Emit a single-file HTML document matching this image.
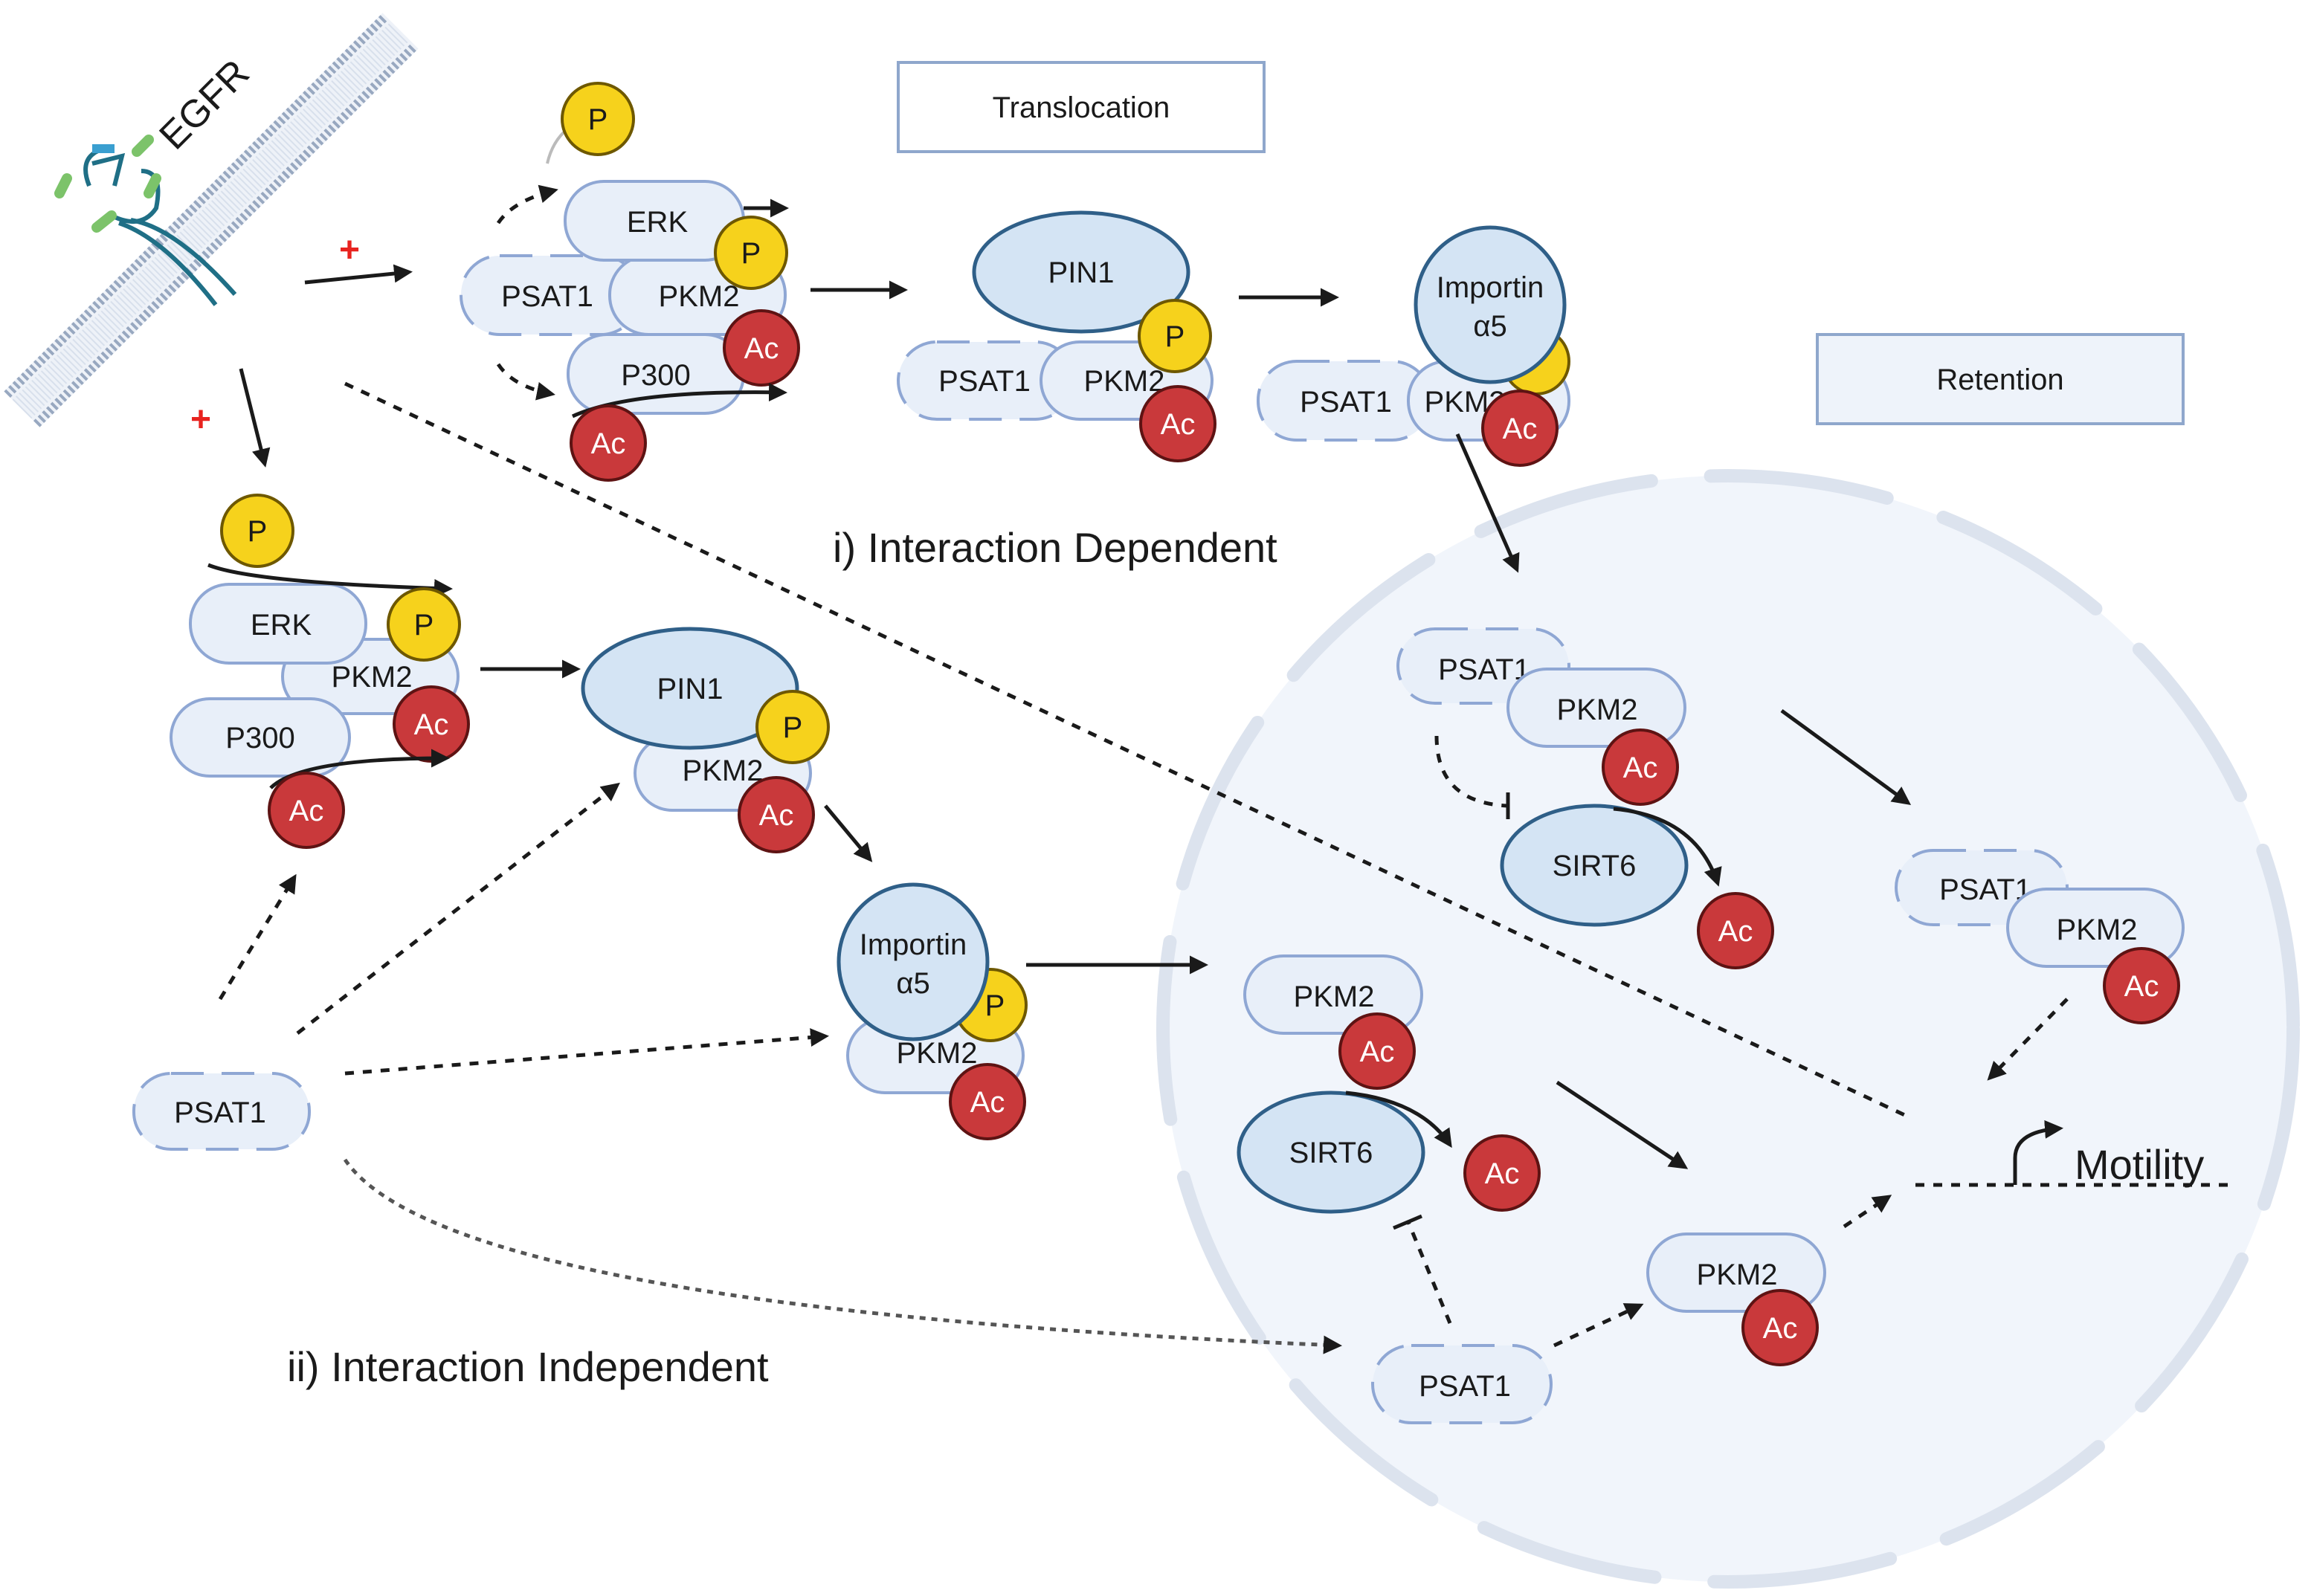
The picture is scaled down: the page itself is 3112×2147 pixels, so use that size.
<!DOCTYPE html>
<html><head><meta charset="utf-8"><style>html,body{margin:0;padding:0;background:#fff}svg{display:block}text{font-family:"Liberation Sans",sans-serif}</style></head><body>
<svg width="3112" height="2147" viewBox="0 0 1556 1073.5" xmlns="http://www.w3.org/2000/svg">
<defs>
<marker id="a" viewBox="0 0 10 10" refX="8" refY="5" markerWidth="5" markerHeight="5" orient="auto"><path d="M0,0L10,5L0,10z" fill="#1a1a1a"/></marker>
<style>
.pl{fill:#e8eff9;stroke:#8fa7d4;stroke-width:2}
.pd{fill:#e8eff9;stroke:#8fa7d4;stroke-width:2;stroke-dasharray:22 12}
.el{fill:#d4e4f4;stroke:#2f5f88;stroke-width:2.5}
.p{fill:#f6d21c;stroke:#6e5800;stroke-width:2}
.ac{fill:#c9393b;stroke:#5e1313;stroke-width:2}
.t{font-size:20px;fill:#1a1a1a;text-anchor:middle}
.tw{font-size:20px;fill:#fff;text-anchor:middle}
.s{stroke:#1a1a1a;stroke-width:2.5;fill:none}
.d{stroke:#1a1a1a;stroke-width:2.5;fill:none;stroke-dasharray:6 6}
</style>
</defs>
<ellipse cx="1162" cy="692" rx="380" ry="372" fill="#f1f5fb"/>
<ellipse cx="1162" cy="692" rx="380" ry="372" fill="none" stroke="#dce3ee" stroke-width="9" stroke-linecap="round" stroke-dasharray="120 40"/>
<g transform="translate(142,148) rotate(-45)">
<rect x="-180" y="-17" width="360" height="34" fill="#eef2f8"/>
<line x1="-180" y1="-14" x2="180" y2="-14" stroke="#98a8c0" stroke-width="6" stroke-dasharray="2 2"/>
<line x1="-180" y1="14" x2="180" y2="14" stroke="#98a8c0" stroke-width="6" stroke-dasharray="2 2"/>
<line x1="-180" y1="0" x2="180" y2="0" stroke="#d8e0ec" stroke-width="18" stroke-dasharray="1 2"/>
</g>
<text x="0" y="0" transform="translate(118,102) rotate(-45)" style="font-size:26px" fill="#1a1a1a">EGFR</text>
<path d="M60,125 q-8,-20 10,-25 M62,110 l20,-5 l-5,20 M95,115 q15,0 10,25 q-10,15 -30,5 M80,150 q30,10 65,55 M88,148 q30,5 70,50" stroke="#1f6f86" stroke-width="3" fill="none"/>
<path d="M45,120 l-5,10 M92,102 l8,-8 M75,145 l-10,8 M100,130 l5,-10" stroke="#7cc36a" stroke-width="7" stroke-linecap="round"/>
<path d="M62,100 l15,0" stroke="#3a9fd0" stroke-width="6"/>
<line x1="205" y1="190" x2="275" y2="183" class="s" marker-end="url(#a)"/>
<text x="235" y="176" style="font-size:24px;font-weight:bold" fill="#e8231f" text-anchor="middle">+</text>
<path d="M335,150 q10,-15 38,-22" class="d" marker-end="url(#a)"/>
<path d="M335,245 q10,15 36,20" class="d" marker-end="url(#a)"/>
<path d="M368,110 q5,-22 25,-30" stroke="#bbb" stroke-width="2" fill="none"/>
<circle cx="402" cy="80" r="24" class="p"/><text x="402" y="87" class="t">P</text>
<rect x="310" y="172" width="120" height="53" rx="26" class="pd"/>
<rect x="410" y="172" width="118" height="53" rx="26" class="pl"/>
<rect x="380" y="122" width="120" height="53" rx="26" class="pl"/>
<text x="442" y="156" class="t">ERK</text>
<text x="368" y="206" class="t">PSAT1</text><text x="470" y="206" class="t">PKM2</text>
<rect x="382" y="225" width="118" height="53" rx="26" class="pl"/>
<text x="441" y="259" class="t">P300</text>
<line x1="500" y1="140" x2="528" y2="140" class="s" marker-end="url(#a)"/>
<circle cx="505" cy="170" r="24" class="p"/><text x="505" y="177" class="t">P</text>
<circle cx="512" cy="234" r="25" class="ac"/><text x="512" y="241" class="tw">Ac</text>
<path d="M385,280 q40,-18 142,-16" class="s" marker-end="url(#a)"/>
<circle cx="409" cy="298" r="25" class="ac"/><text x="409" y="305" class="tw">Ac</text>
<line x1="545" y1="195" x2="608" y2="195" class="s" marker-end="url(#a)"/>
<rect x="604" y="42" width="246" height="60" fill="#fff" stroke="#8fa7cc" stroke-width="2"/>
<text x="727" y="79" class="t">Translocation</text>
<rect x="604" y="230" width="118" height="52" rx="26" class="pd"/>
<rect x="700" y="230" width="115" height="52" rx="26" class="pl"/>
<text x="662" y="263" class="t">PSAT1</text><text x="756" y="263" class="t">PKM2</text>
<ellipse cx="727" cy="183" rx="72" ry="40" class="el"/><text x="727" y="190" class="t">PIN1</text>
<circle cx="790" cy="226" r="24" class="p"/><text x="790" y="233" class="t">P</text>
<circle cx="792" cy="285" r="25" class="ac"/><text x="792" y="292" class="tw">Ac</text>
<line x1="833" y1="200" x2="898" y2="200" class="s" marker-end="url(#a)"/>
<rect x="846" y="243" width="116" height="53" rx="26" class="pd"/>
<rect x="947" y="243" width="108" height="53" rx="26" class="pl"/>
<text x="905" y="277" class="t">PSAT1</text><text x="985" y="277" class="t">PKM2</text>
<circle cx="1033" cy="243" r="22" class="p"/>
<ellipse cx="1002" cy="205" rx="50" ry="52" class="el"/>
<text x="1002" y="200" class="t">Importin</text><text x="1002" y="226" class="t">α5</text>
<circle cx="1022" cy="288" r="25" class="ac"/><text x="1022" y="295" class="tw">Ac</text>
<line x1="980" y1="292" x2="1020" y2="383" class="s" marker-end="url(#a)"/>
<rect x="1222" y="225" width="246" height="60" fill="#eef3fa" stroke="#8fa7cc" stroke-width="2"/>
<text x="1345" y="262" class="t">Retention</text>
<text x="560" y="378" style="font-size:28px" fill="#1a1a1a">i) Interaction Dependent</text>
<line x1="232" y1="258" x2="1285" y2="752" class="d"/>
<line x1="162" y1="248" x2="178" y2="312" class="s" marker-end="url(#a)"/>
<text x="135" y="290" style="font-size:24px;font-weight:bold" fill="#e8231f" text-anchor="middle">+</text>
<circle cx="173" cy="357" r="24" class="p"/><text x="173" y="364" class="t">P</text>
<rect x="190" y="430" width="118" height="50" rx="25" class="pl"/>
<rect x="128" y="393" width="118" height="53" rx="26" class="pl"/>
<text x="189" y="427" class="t">ERK</text><text x="250" y="462" class="t">PKM2</text>
<rect x="115" y="470" width="120" height="52" rx="26" class="pl"/>
<text x="175" y="503" class="t">P300</text>
<path d="M140,380 q30,12 162,16" class="s" marker-end="url(#a)"/>
<circle cx="285" cy="420" r="24" class="p"/><text x="285" y="427" class="t">P</text>
<circle cx="290" cy="487" r="25" class="ac"/><text x="290" y="494" class="tw">Ac</text>
<path d="M182,530 q20,-20 118,-20" class="s" marker-end="url(#a)"/>
<circle cx="206" cy="545" r="25" class="ac"/><text x="206" y="552" class="tw">Ac</text>
<line x1="323" y1="450" x2="388" y2="450" class="s" marker-end="url(#a)"/>
<rect x="427" y="495" width="118" height="50" rx="25" class="pl"/>
<text x="486" y="525" class="t">PKM2</text>
<ellipse cx="464" cy="463" rx="72" ry="40" class="el"/><text x="464" y="470" class="t">PIN1</text>
<circle cx="533" cy="489" r="24" class="p"/><text x="533" y="496" class="t">P</text>
<circle cx="522" cy="548" r="25" class="ac"/><text x="522" y="555" class="tw">Ac</text>
<line x1="555" y1="542" x2="585" y2="578" class="s" marker-end="url(#a)"/>
<rect x="570" y="685" width="118" height="50" rx="25" class="pl"/>
<text x="630" y="715" class="t">PKM2</text>
<circle cx="666" cy="676" r="24" class="p"/><text x="669" y="683" class="t">P</text>
<ellipse cx="614" cy="647" rx="50" ry="52" class="el"/>
<text x="614" y="642" class="t">Importin</text><text x="614" y="668" class="t">α5</text>
<circle cx="664" cy="741" r="25" class="ac"/><text x="664" y="748" class="tw">Ac</text>
<line x1="690" y1="649" x2="810" y2="649" class="s" marker-end="url(#a)"/>
<rect x="90" y="722" width="118" height="51" rx="25" class="pd"/>
<text x="148" y="755" class="t">PSAT1</text>
<line x1="148" y1="672" x2="198" y2="590" class="d" marker-end="url(#a)"/>
<line x1="200" y1="695" x2="415" y2="528" class="d" marker-end="url(#a)"/>
<line x1="232" y1="722" x2="555" y2="697" class="d" marker-end="url(#a)"/>
<path d="M232,780 Q300,880 900,905" stroke="#555" stroke-width="2.5" fill="none" stroke-dasharray="4 4" marker-end="url(#a)"/>
<text x="193" y="929" style="font-size:28px" fill="#1a1a1a">ii) Interaction Independent</text>
<rect x="940" y="423" width="115" height="50" rx="25" class="pd"/>
<text x="998" y="457" class="t">PSAT1</text>
<rect x="1014" y="450" width="119" height="52" rx="26" class="pl"/>
<text x="1074" y="484" class="t">PKM2</text>
<circle cx="1103" cy="516" r="25" class="ac"/><text x="1103" y="523" class="tw">Ac</text>
<path d="M966,495 q0,45 48,47" class="d"/><line x1="1014" y1="533" x2="1014" y2="551" stroke="#1a1a1a" stroke-width="2.5"/>
<ellipse cx="1072" cy="582" rx="62" ry="40" class="el"/><text x="1072" y="589" class="t">SIRT6</text>
<path d="M1085,544 q55,5 70,50" class="s" marker-end="url(#a)"/>
<circle cx="1167" cy="626" r="25" class="ac"/><text x="1167" y="633" class="tw">Ac</text>
<line x1="1198" y1="478" x2="1283" y2="540" class="s" marker-end="url(#a)"/>
<rect x="1275" y="572" width="115" height="50" rx="25" class="pd"/>
<text x="1335" y="605" class="t">PSAT1</text>
<rect x="1350" y="598" width="118" height="52" rx="26" class="pl"/>
<text x="1410" y="632" class="t">PKM2</text>
<circle cx="1440" cy="663" r="25" class="ac"/><text x="1440" y="670" class="tw">Ac</text>
<line x1="1390" y1="672" x2="1338" y2="725" class="d" marker-end="url(#a)"/>
<rect x="837" y="643" width="119" height="52" rx="26" class="pl"/>
<text x="897" y="677" class="t">PKM2</text>
<circle cx="926" cy="707" r="25" class="ac"/><text x="926" y="714" class="tw">Ac</text>
<ellipse cx="895" cy="775" rx="62" ry="40" class="el"/><text x="895" y="782" class="t">SIRT6</text>
<path d="M905,735 q50,5 70,35" class="s" marker-end="url(#a)"/>
<circle cx="1010" cy="789" r="25" class="ac"/><text x="1010" y="796" class="tw">Ac</text>
<line x1="1047" y1="728" x2="1133" y2="785" class="s" marker-end="url(#a)"/>
<line x1="975" y1="890" x2="947" y2="822" class="d"/><line x1="937" y1="826" x2="956" y2="818" stroke="#1a1a1a" stroke-width="2.5"/>
<rect x="923" y="905" width="120" height="52" rx="26" class="pd"/>
<text x="985" y="939" class="t">PSAT1</text>
<line x1="1045" y1="905" x2="1103" y2="878" class="d" marker-end="url(#a)"/>
<rect x="1108" y="830" width="119" height="52" rx="26" class="pl"/>
<text x="1168" y="864" class="t">PKM2</text>
<circle cx="1197" cy="893" r="25" class="ac"/><text x="1197" y="900" class="tw">Ac</text>
<line x1="1240" y1="825" x2="1270" y2="805" class="d" marker-end="url(#a)"/>
<line x1="1288" y1="797" x2="1500" y2="797" class="d"/>
<path d="M1355,797 v-18 q0,-18 30,-20" class="s" marker-end="url(#a)"/>
<text x="1395" y="793" style="font-size:28px" fill="#1a1a1a">Motility</text>
</svg>
</body></html>
